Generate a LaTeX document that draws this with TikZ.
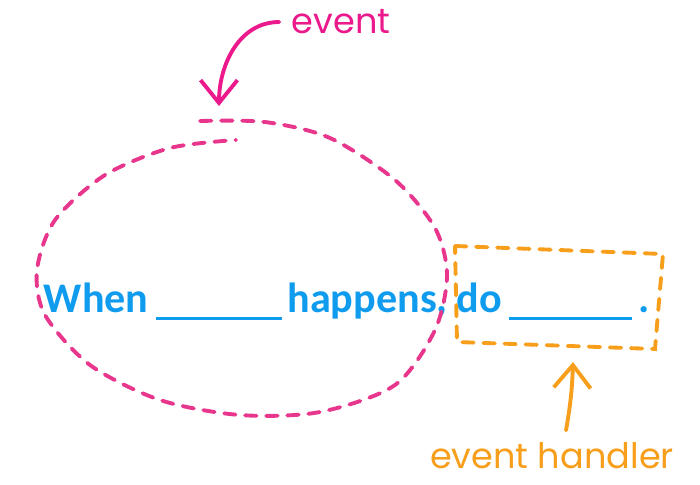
\documentclass[tikz,border=0pt]{standalone}
\usepackage{fontspec}
\setmainfont{Carlito}
\newfontfamily\handfont{Poppins}
\usepackage{xcolor}
\usepackage{tikz}
\usetikzlibrary{positioning,arrows.meta}
\definecolor{evpink}{RGB}{235,25,140}
\definecolor{looppink}{RGB}{232,54,140}
\definecolor{hdorange}{RGB}{247,158,27}
\definecolor{txtblue}{RGB}{16,156,238}
\newcommand{\blankline}[1]{\rule[-4.6pt]{#1}{1.7pt}}

\begin{document}
\begin{tikzpicture}[x=0.02cm, y=-0.02cm, line width=2.2pt, line cap=round,
  sentence/.style={inner sep=0pt, anchor=base west, text=txtblue, font=\fontsize{24}{28}\selectfont\bfseries},
  label/.style={inner sep=6pt, font=\handfont\fontsize{20}{24}\selectfont},
  loop/.style={draw=looppink, dash pattern=on 6.5pt off 5.5pt},
  handlerbox/.style={draw=hdorange, dash pattern=on 6.5pt off 5.5pt},
  pointer/.style={-{Straight Barb[length=13pt,width=21pt,line width=2.2pt]}}]
\useasboundingbox (0,0) rectangle (700,484);
\node[sentence] (text) at (42,312) {When\hspace{4pt}\blankline{72pt}\hspace{3pt}happens,\hspace{5pt}do\hspace{4pt}\blankline{70pt}\hspace{4pt}.};
\node[label, text=evpink] (event) at (341,22) {event};
\node[label, text=hdorange] (handler) at (552,456) {event handler};
\coordinate (evtip) at (219,106);
\coordinate (hdtip) at (573,362);
\draw[loop] plot[smooth] coordinates {(200,121) (265,122) (330,138) (395,180) (435,228) (447,275) (435,330) (395,385) (320,412) (240,415) (160,400) (90,365) (45,315) (37,270) (55,220) (105,175) (170,148) (236,140)};
\draw[handlerbox] (455,246) -- (663,254) -- (655,349) -- (457,342) -- cycle;
\draw[pointer, evpink] (event.west) to[out=180, in=90] (evtip);
\draw[pointer, hdorange] (handler.north -| 566,0) to[bend right=4] (hdtip);
\end{tikzpicture}
\end{document}
